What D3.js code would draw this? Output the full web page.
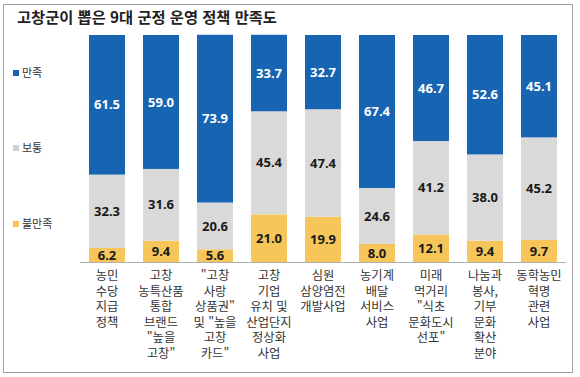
<!DOCTYPE html>
<html lang="ko">
<head>
<meta charset="UTF-8">
<title>고창군이 뽑은 9대 군정 운영 정책 만족도</title>
<script src="https://cdn.jsdelivr.net/npm/d3@7/dist/d3.min.js"></script>
<style>
  body { margin: 0; background: #fff; }
  text { font-family: "Noto Sans", "Noto Sans CJK KR", sans-serif; }
</style>
</head>
<body>
<script>
  // 항목 라벨 (줄 단위)
  const categories = [
    ["농민", "수당", "지급", "정책"],
    ["고창", "농특산품", "통합", "브랜드", "\"높을", "고창\""],
    ["\"고창", "사랑", "상품권\"", "및 \"높을", "고창", "카드\""],
    ["고창", "기업", "유치 및", "산업단지", "정상화", "사업"],
    ["심원", "삼양염전", "개발사업"],
    ["농기계", "배달", "서비스", "사업"],
    ["미래", "먹거리", "\"식초", "문화도시", "선포\""],
    ["나눔과", "봉사,", "기부", "문화", "확산", "분야"],
    ["동학농민", "혁명", "관련", "사업"]
  ];
  const satisfied    = [61.5, 59.0, 73.9, 33.7, 32.7, 67.4, 46.7, 52.6, 45.1];
  const neutral      = [32.3, 31.6, 20.6, 45.4, 47.4, 24.6, 41.2, 38.0, 45.2];
  const dissatisfied = [6.2, 9.4, 5.6, 21.0, 19.9, 8.0, 12.1, 9.4, 9.7];

  const legendLabels = ["만족", "보통", "불만족"];
  const keys = ["satisfied", "neutral", "dissatisfied"];
  const colors = { satisfied: "#1764b3", neutral: "#d9d9d9", dissatisfied: "#f6c65a" };
  const textColors = { satisfied: "#ffffff", neutral: "#1a1a1a", dissatisfied: "#1a1a1a" };

  const rows = categories.map((c, i) => ({
    idx: i,
    satisfied: satisfied[i],
    neutral: neutral[i],
    dissatisfied: dissatisfied[i]
  }));

  const W = 580, H = 377;
  const svg = d3.select("body").append("svg")
    .attr("width", W)
    .attr("height", H);

  // 바깥 테두리
  svg.append("rect")
    .attr("x", 3.5).attr("y", 4.5)
    .attr("width", 569).attr("height", 368)
    .attr("fill", "none")
    .attr("stroke", "#a0a0a0");

  // 제목
  svg.append("text")
    .attr("x", 17).attr("y", 23)
    .attr("font-size", 15.3)
    .attr("font-weight", "bold")
    .attr("fill", "#222")
    .style("font-family", "'Noto Sans CJK KR', sans-serif")
    .text("고창군이 뽑은 9대 군정 운영 정책 만족도");

  const x = d3.scaleBand()
    .domain(rows.map(d => d.idx))
    .range([80, 566])
    .paddingInner(1 / 3)
    .paddingOuter(1 / 6);

  const y = d3.scaleLinear()
    .domain([0, 100])
    .range([262, 35]);

  // 아래부터 불만족 - 보통 - 만족
  const stack = d3.stack().keys(["dissatisfied", "neutral", "satisfied"]);
  const series = stack(rows);

  const layers = svg.selectAll("g.layer")
    .data(series)
    .enter().append("g")
    .attr("class", "layer");

  layers.selectAll("rect")
    .data(s => s.map(p => ({ key: s.key, p })))
    .enter().append("rect")
    .attr("x", d => x(d.p.data.idx))
    .attr("y", d => y(d.p[1]))
    .attr("width", x.bandwidth())
    .attr("height", d => y(d.p[0]) - y(d.p[1]))
    .attr("fill", d => colors[d.key]);

  layers.selectAll("text")
    .data(s => s.map(p => ({ key: s.key, p })))
    .enter().append("text")
    .attr("x", d => x(d.p.data.idx) + x.bandwidth() / 2)
    .attr("y", d => (y(d.p[0]) + y(d.p[1])) / 2)
    .attr("dy", "0.36em")
    .attr("text-anchor", "middle")
    .attr("font-size", 13)
    .attr("font-weight", "bold")
    .attr("fill", d => textColors[d.key])
    .text(d => d.p.data[d.key].toFixed(1));

  // 기준선
  svg.append("line")
    .attr("x1", 80).attr("x2", 566)
    .attr("y1", 262.5).attr("y2", 262.5)
    .attr("stroke", "#b0b0b0");

  // 항목 라벨 - 한 줄씩 따로
  const labelLines = [];
  categories.forEach((lines, i) => {
    lines.forEach((line, j) => labelLines.push({ line, i, j }));
  });

  svg.selectAll("text.cat")
    .data(labelLines)
    .enter().append("text")
    .attr("class", "cat")
    .attr("x", d => x(d.i) + x.bandwidth() / 2)
    .attr("y", d => 280 + d.j * 15.6)
    .attr("text-anchor", "middle")
    .attr("font-size", 12.3)
    .attr("fill", "#333")
    .style("font-family", "'Noto Sans CJK KR', sans-serif")
    .text(d => d.line);

  // 범례
  const legendY = [73, 148, 224];
  const legend = svg.selectAll("g.legend")
    .data(keys)
    .enter().append("g")
    .attr("class", "legend")
    .attr("transform", (d, i) => `translate(13,${legendY[i]})`);

  legend.append("rect")
    .attr("x", 0).attr("y", -3)
    .attr("width", 6).attr("height", 6)
    .attr("fill", d => d === "neutral" ? "#d0d0d0" : colors[d]);

  legend.append("text")
    .attr("x", 9)
    .attr("dy", "0.36em")
    .attr("font-size", 11)
    .attr("fill", "#333")
    .style("font-family", "'Noto Sans CJK KR', sans-serif")
    .text((d, i) => legendLabels[i]);
</script>
</body>
</html>
